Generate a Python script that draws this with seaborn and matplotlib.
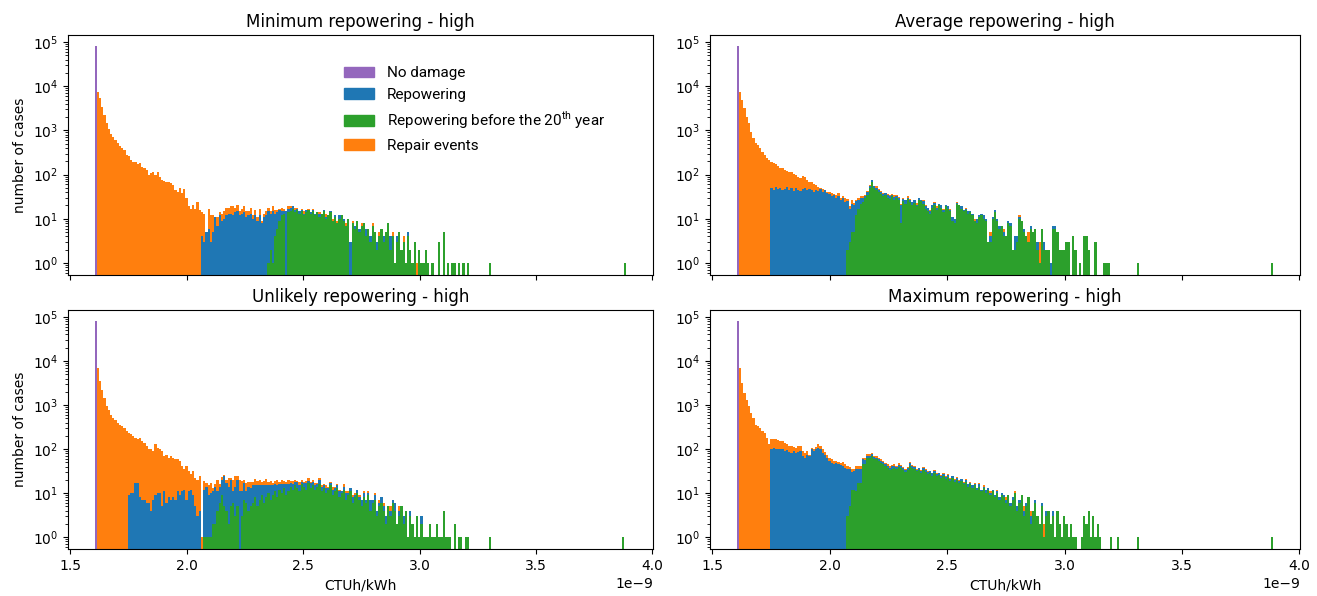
import numpy as np
import pandas as pd
import matplotlib
matplotlib.use("Agg")
import matplotlib.pyplot as plt
import seaborn as sns
from matplotlib.patches import Patch

# common histogram bins for the four scenarios (CTUh/kWh)
N_BINS = 240
X_LO, X_HI = 1.604e-9, 3.889e-9

kinds = ["nodamage", "repower", "repower20", "repair"]
kind_labels = ["No damage", "Repowering",
               "Repowering before the 20$^{\\mathdefault{th}}$ year", "Repair events"]
kind_colors = ["#9467bd", "#1f77b4", "#2ca02c", "#ff7f0e"]

titles = ["Minimum repowering - high", "Average repowering - high",
          "Unlikely repowering - high", "Maximum repowering - high"]

# ---- Minimum repowering ----
min_nodamage = 81000
min_repair_first = 1
min_repair = [7250, 5300, 3400, 2200, 1500, 1100, 820, 720, 610, 510,
              450, 390, 360, 280, 270, 215, 195, 188, 170, 180,
              150, 140, 127, 98, 107, 117, 98, 117, 90, 75,
              72, 69, 69, 63, 58, 45, 41, 49, 38, 47,
              29, 19, 17, 20, 17, 24, 16, 10, 10, 0,
              11, 9, 7, 0, 4, 2, 4, 5, 6, 5,
              6, 7, 4, 5, 3, 4, 5, 4, 3, 5,
              2, 4, 2, 5, 1, 2, 3, 3, 2, 4,
              3, 2, 1, 3, 2, 0, 2, 1, 0, 2,
              1, 0, 1, 2, 0, 1, 0, 1, 0, 0,
              1, 0, 0, 2, 0, 0, 1, 0, 1, 0,
              0, 0, 1, 0, 0, 1, 0, 0, 0, 1,
              0, 0, 0, 0, 1, 0, 0, 1, 0, 0,
              0, 0, 0, 1, 0, 0, 0, 0, 1, 0,
              0, 0, 0, 0, 1]
min_repower_first = 48
min_repower = [4, 3, 5, 6, 3, 5, 11, 7, 12, 9,
               10, 12, 13, 13, 12, 14, 15, 12, 13, 14,
               11, 12, 13, 10, 12, 9, 12, 8, 11, 12,
               14, 11, 14, 9, 8, 7, 3, 2, 15, 3,
               3, 2, 2, 1, 2, 1, 1, 2, 0, 1,
               1, 1, 0, 2, 0, 1, 1, 0, 1, 0,
               1, 0, 2, 0, 1, 0, 0, 3, 0, 1,
               0, 1, 0, 0, 2, 0, 1, 0, 0, 1,
               0, 0, 1, 0, 0, 2, 0, 0, 1, 0,
               0, 0, 0, 1]
min_repower20_first = 78
min_repower20 = [1, 2, 1, 4, 6, 9, 12, 13, 0, 14,
                 15, 17, 14, 16, 13, 15, 12, 14, 16, 13,
                 15, 12, 14, 11, 13, 15, 10, 12, 14, 9,
                 11, 8, 10, 12, 9, 7, 10, 0, 8, 6,
                 9, 5, 7, 8, 4, 6, 3, 7, 5, 2,
                 4, 6, 3, 5, 8, 2, 4, 1, 3, 5,
                 2, 3, 1, 4, 2, 1, 3, 0, 2, 1,
                 1, 2, 1, 0, 1, 0, 0, 3, 0, 5,
                 0, 1, 0, 1, 1, 0, 1, 0, 1, 0, 1]
min_repower20_far = [3.30e-9, 3.88e-9]

# ---- Average repowering ----
avg_nodamage = 80000
avg_repair_first = 1
avg_repair = [7250, 4900, 3150, 2050, 1440, 935, 660, 510, 465, 393,
              330, 278, 234, 214, 147, 135, 119, 113, 93, 95,
              79, 67, 66, 66, 59, 49, 45, 40, 47, 40,
              31, 21, 21, 19, 13, 10, 4, 7, 1, 3,
              4, 5, 1, 5, 5, 3, 4, 5, 3, 2,
              4, 3, 2, 3, 2, 3, 1, 2, 3, 2,
              1, 3, 4, 2, 2, 1, 2, 1, 2, 3,
              1, 1, 2, 1, 1, 2, 1, 0, 1, 2,
              1, 0, 1, 1, 0, 1, 0, 1, 1, 0,
              0, 1, 0, 0, 1, 0, 0, 1, 0, 0,
              0, 1, 0, 0, 0, 1, 0, 0, 0, 0,
              0, 0, 1, 0, 0, 0, 0, 0, 1, 0,
              0, 0, 0, 0, 0, 1, 0, 0, 0, 2,
              0, 0, 0, 0, 2]
avg_repower_first = 15
avg_repower = [49, 45, 52, 47, 50, 44, 48, 53, 46, 51,
               43, 49, 45, 42, 47, 50, 44, 48, 46, 41,
               45, 43, 47, 40, 44, 38, 36, 33, 35, 30,
               33, 27, 29, 24, 23, 14, 17, 15, 13, 10,
               8, 6, 4, 5, 6, 6, 5, 6, 4, 5,
               4, 3, 4, 5, 3, 4, 3, 4, 12, 3,
               4, 2, 3, 4, 3, 2, 3, 2, 3, 2,
               3, 2, 2, 3, 2, 1, 2, 2, 1, 2,
               1, 2, 2, 1, 1, 2, 1, 1, 2, 1,
               1, 0, 2, 1, 1, 2, 1, 0, 1, 1,
               2, 1, 1, 0, 1, 0, 1, 1, 0, 2,
               1, 1, 0, 1, 0, 0, 1, 0, 0, 1,
               0, 0, 1, 0, 0, 1, 1, 1]
avg_repower20_first = 49
avg_repower20 = [2, 3, 5, 5, 12, 17, 22, 24, 29, 35,
                 49, 69, 50, 45, 40, 36, 33, 35, 30, 28,
                 32, 27, 30, 26, 8, 25, 22, 28, 24, 20,
                 23, 19, 26, 25, 22, 17, 15, 13, 18, 20,
                 16, 21, 18, 14, 19, 17, 15, 9, 8, 22,
                 20, 17, 15, 16, 13, 14, 12, 9, 8, 11,
                 12, 10, 9, 3, 3, 10, 14, 9, 6, 7,
                 4, 4, 8, 7, 2, 2, 3, 10, 9, 5,
                 4, 3, 6, 5, 6, 2, 1, 6, 2, 2,
                 2, 0, 6, 6, 5, 2, 2, 2, 3, 3,
                 0, 4, 2, 0, 1, 0, 4, 4, 2, 0,
                 0, 3, 0, 0, 0, 1, 1, 1]
avg_repower20_far = [3.31e-9, 3.885e-9]

# ---- Unlikely repowering ----
unl_nodamage = 79000
unl_repair_first = 1
unl_repair = [6900, 3440, 2230, 1440, 935, 785, 607, 510, 465, 393,
              360, 330, 303, 254, 225, 215, 186, 164, 149, 173,
              144, 132, 111, 96, 94, 83, 118, 97, 88, 85,
              58, 69, 55, 62, 55, 51, 47, 44, 30, 23,
              34, 21, 15, 23, 17, 17, 20, 1, 7, 3,
              6, 7, 2, 2, 9, 2, 3, 2, 3, 8,
              2, 9, 10, 4, 9, 8, 3, 6, 4, 5,
              3, 6, 4, 5, 3, 4, 6, 3, 4, 2,
              3, 5, 2, 4, 3, 2, 4, 2, 3, 2,
              1, 3, 2, 1, 2, 3, 1, 2, 2, 1,
              2, 1, 1, 2, 1, 1, 2, 1, 1, 1,
              0, 2, 1, 1, 0, 1, 1, 0, 1, 0,
              1, 0, 1, 0, 0, 1, 0, 1, 0, 1,
              0, 0, 1, 0, 0, 0, 1, 0]
unl_repower_first = 15
unl_repower = [9, 10, 10, 17, 17, 8, 7, 7, 6, 6,
               4, 7, 9, 10, 10, 5, 11, 6, 8, 7,
               8, 7, 11, 9, 11, 12, 7, 11, 12, 9,
               5, 3, 4, 0, 11, 13, 8, 9, 9, 12,
               7, 8, 11, 19, 13, 12, 15, 5, 11, 15,
               11, 8, 10, 5, 10, 8, 9, 7, 10, 8,
               6, 9, 7, 5, 8, 6, 5, 7, 4, 6,
               3, 7, 5, 3, 4, 3, 5, 4, 2, 3,
               5, 2, 4, 3, 3, 2, 4, 3, 2, 3,
               1, 2, 3, 2, 2, 3, 1, 2, 3, 1,
               2, 2, 1, 2, 1, 2, 2, 1, 1, 3,
               1, 2, 1, 1, 2, 1, 1, 0, 1, 1,
               2, 0, 1, 0, 1, 0, 0, 1, 0, 0,
               0, 0, 1, 0]
unl_repower20_first = 49
unl_repower20 = [1, 1, 1, 1, 2, 2, 4, 6, 9, 5,
                 4, 2, 5, 6, 3, 5, 0, 3, 7, 6,
                 4, 5, 6, 8, 5, 7, 9, 6, 8, 10,
                 7, 9, 11, 8, 12, 10, 13, 9, 11, 14,
                 12, 15, 13, 11, 16, 14, 12, 17, 13, 15,
                 12, 14, 16, 11, 13, 10, 12, 15, 9, 11,
                 13, 8, 10, 12, 7, 9, 11, 6, 8, 10,
                 7, 5, 8, 6, 9, 4, 6, 7, 3, 5,
                 6, 4, 2, 5, 3, 6, 4, 2, 3, 5,
                 2, 4, 1, 3, 2, 1, 3, 1, 2, 1,
                 1, 1, 2, 1, 1, 2, 1, 1, 4, 1,
                 1, 1, 0, 2, 0, 1, 1, 0, 1, 1]
unl_repower20_far = [3.30e-9, 3.87e-9]

# ---- Maximum repowering ----
max_nodamage = 79000
max_repair_first = 1
max_repair = [6900, 3150, 1870, 1320, 935, 660, 510, 360, 330, 303,
              254, 234, 181, 127, 68, 64, 64, 62, 53, 49,
              44, 33, 32, 35, 22, 27, 32, 30, 21, 19,
              18, 6, 9, 12, 10, 20, 19, 16, 13, 12,
              10, 9, 8, 6, 6, 6, 10, 7, 5, 5,
              5, 4, 5, 6, 6, 5, 7, 6, 6, 5,
              4, 4, 3, 4, 3, 3, 4, 3, 3, 3,
              2, 3, 2, 3, 2, 2, 3, 2, 2, 2,
              1, 2, 2, 1, 2, 1, 1, 2, 1, 1,
              1, 2, 1, 1, 1, 0, 1, 1, 1, 0,
              1, 1, 0, 1, 0, 1, 0, 1, 0, 1,
              0, 0, 1, 0, 0, 1, 0, 0, 0, 1,
              0, 0, 0, 1, 0, 0, 0, 1, 0, 0,
              1, 0, 0, 0, 0, 0, 1, 0]
max_repower_first = 15
max_repower = [98, 107, 102, 98, 98, 102, 90, 94, 85, 82,
               90, 80, 85, 90, 69, 63, 72, 69, 98, 90,
               102, 107, 98, 82, 72, 63, 53, 49, 45, 47,
               45, 43, 41, 38, 33, 30, 18, 20, 25, 18,
               18, 13, 10, 7, 8, 9, 7, 6, 6, 5,
               6, 5, 4, 5, 5, 4, 5, 4, 5, 4,
               3, 4, 5, 4, 4, 3, 4, 3, 3, 4,
               3, 2, 3, 3, 3, 2, 3, 2, 2, 3,
               2, 2, 2, 2, 2, 2, 1, 2, 2, 1,
               2, 1, 1, 2, 1, 1, 2, 1, 1, 1,
               1, 1, 1, 1, 1, 1, 0, 1, 1, 0,
               1, 1, 0, 1, 1, 0, 1, 0, 1, 0,
               0, 1, 0, 1, 0, 0, 1, 0, 0, 0,
               0, 0, 0, 0]
max_repower20_first = 49
max_repower20 = [3, 5, 12, 12, 11, 17, 17, 45, 45, 63,
                 63, 69, 58, 58, 53, 49, 45, 41, 38, 33,
                 36, 38, 35, 40, 37, 33, 30, 34, 42, 38,
                 35, 31, 33, 29, 34, 30, 27, 29, 25, 28,
                 24, 26, 22, 25, 21, 23, 19, 22, 18, 20,
                 17, 19, 16, 18, 14, 16, 13, 15, 12, 14,
                 11, 13, 10, 12, 9, 11, 8, 10, 7, 9,
                 8, 6, 9, 5, 7, 10, 4, 6, 9, 3,
                 5, 8, 2, 4, 6, 3, 2, 5, 1, 3,
                 4, 2, 3, 1, 4, 2, 1, 3, 2, 1,
                 2, 1, 1, 0, 0, 1, 3, 2, 4, 1,
                 3, 1, 2, 1, 0, 0, 0, 0, 1, 0,
                 0, 1]
max_repower20_far = [3.31e-9, 3.88e-9]

edges = np.linspace(X_LO, X_HI, N_BINS + 1)
centers = 0.5 * (edges[:-1] + edges[1:])


def scenario_frame(nodamage, series):
    parts = [pd.DataFrame({"ctuh": [centers[0]], "cases": [float(nodamage)], "kind": "nodamage"})]
    for kind, first, counts, far in series:
        c = np.asarray(counts, dtype=float)
        parts.append(pd.DataFrame({"ctuh": centers[first:first + len(c)], "cases": c, "kind": kind}))
        if far:
            parts.append(pd.DataFrame({"ctuh": far, "cases": 1.0, "kind": kind}))
    df = pd.concat(parts, ignore_index=True)
    return df[df["cases"] > 0]


frames = [
    scenario_frame(min_nodamage, [("repair", min_repair_first, min_repair, None),
                                  ("repower", min_repower_first, min_repower, None),
                                  ("repower20", min_repower20_first, min_repower20, min_repower20_far)]),
    scenario_frame(avg_nodamage, [("repair", avg_repair_first, avg_repair, None),
                                  ("repower", avg_repower_first, avg_repower, None),
                                  ("repower20", avg_repower20_first, avg_repower20, avg_repower20_far)]),
    scenario_frame(unl_nodamage, [("repair", unl_repair_first, unl_repair, None),
                                  ("repower", unl_repower_first, unl_repower, None),
                                  ("repower20", unl_repower20_first, unl_repower20, unl_repower20_far)]),
    scenario_frame(max_nodamage, [("repair", max_repair_first, max_repair, None),
                                  ("repower", max_repower_first, max_repower, None),
                                  ("repower20", max_repower20_first, max_repower20, max_repower20_far)]),
]

palette = dict(zip(kinds, kind_colors))
# seaborn puts the first hue level on top of the stack
stack_order = ["nodamage", "repair", "repower", "repower20"]

W, H = 1317, 596
fig = plt.figure(figsize=(W / 100, H / 100), dpi=100)
boxes = [(68, 35, 653, 275), (710, 35, 1300, 275),
         (68, 310, 653, 549), (710, 310, 1300, 549)]

for i, (df, title, (x0, y0, x1, y1)) in enumerate(zip(frames, titles, boxes)):
    ax = fig.add_axes([x0 / W, 1 - y1 / H, (x1 - x0) / W, (y1 - y0) / H])
    sns.histplot(data=df, x="ctuh", weights="cases", hue="kind", hue_order=stack_order,
                 palette=palette, bins=N_BINS, binrange=(X_LO, X_HI), multiple="stack",
                 alpha=1, linewidth=0, legend=False, ax=ax)
    ax.set_yscale("log")
    ax.set_ylim(0.535, 1.44e5)
    ax.set_xlim(1.49e-9, 4.003e-9)
    ax.set_title(title, fontsize=12)
    ax.set_xlabel("")
    ax.set_ylabel("number of cases" if i % 2 == 0 else "")
    if i < 2:
        ax.tick_params(labelbottom=False)
        ax.xaxis.offsetText.set_visible(False)
    else:
        ax.set_xlabel("CTUh/kWh")
    if i == 0:
        handles = [Patch(color=c, label=l) for c, l in zip(kind_colors, kind_labels)]
        ax.legend(handles=handles, loc="upper left", bbox_to_anchor=(0.448, 0.927),
                  frameon=False, prop={"family": "Roboto", "size": 11})

fig.savefig("out.png", dpi=100)
